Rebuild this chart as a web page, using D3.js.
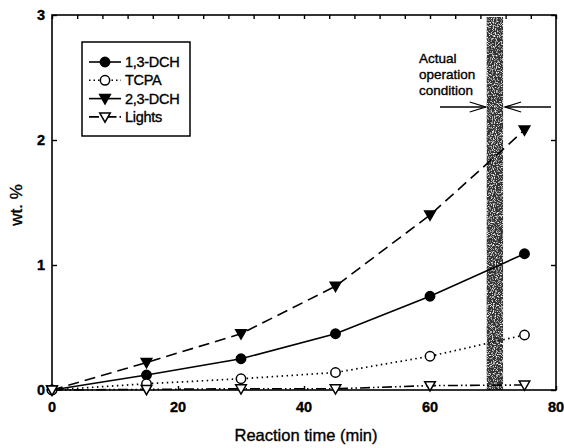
<!doctype html>
<html>
<head>
<meta charset="UTF-8">
<title>wt% vs reaction time</title>
<style>
	body { margin: 0; background: #fff; }
	#container { font-size: 0; }
	text { font-family: "Liberation Sans", Arial, sans-serif; fill: #000; stroke: #000; stroke-width: 0.35; }
</style>
</head>
<body>
<div id="container"></div>
<script src="https://cdn.jsdelivr.net/npm/d3@7"></script>
<script>
	var w = 564;
	var h = 448;

	// data
	var times = [0, 15, 30, 45, 60, 75];
	var dch13 = [0, 0.12, 0.25, 0.45, 0.75, 1.09];
	var tcpa = [0, 0.05, 0.09, 0.14, 0.27, 0.44];
	var dch23 = [0, 0.22, 0.45, 0.83, 1.40, 2.08];
	var lights = [0, 0.005, 0.01, 0.01, 0.035, 0.04];
	var xTicks = [0, 20, 40, 60, 80];
	var yTicks = [0, 1, 2, 3];
	var band = [69, 71.6];

	var series = [
		{name: "1,3-DCH", values: dch13, dash: null, legDash: null, marker: "circle", filled: true},
		{name: "TCPA", values: tcpa, dash: "1.5,3.5", legDash: "1.5,3", marker: "circle", filled: false},
		{name: "2,3-DCH", values: dch23, dash: "11,6", legDash: null, marker: "tri", filled: true},
		{name: "Lights", values: lights, dash: "10,3,1.5,3,1.5,3", legDash: "10,3,1.5,3", marker: "tri", filled: false}
	];

	var xScale = d3.scaleLinear().domain([0, 80]).range([52, 556]);
	var yScale = d3.scaleLinear().domain([0, 3]).range([390, 15]);

	var svg = d3.select("#container").append("svg")
			.attr("width", w)
			.attr("height", h);

	// speckle texture for the band
	var defs = svg.append("defs");
	var f = defs.append("filter").attr("id", "speck").attr("x", 0).attr("y", 0).attr("width", 1).attr("height", 1);
	f.append("feTurbulence").attr("type", "fractalNoise").attr("baseFrequency", 0.9).attr("numOctaves", 2).attr("seed", 3).attr("result", "n");
	f.append("feColorMatrix").attr("in", "n").attr("type", "matrix")
			.attr("values", "0 0 0 0 1  0 0 0 0 1  0 0 0 0 1  3.4 0 0 0 -1.7").attr("result", "s");
	f.append("feComposite").attr("in", "s").attr("in2", "SourceGraphic").attr("operator", "atop");

	svg.append("rect")
			.attr("x", xScale(band[0]))
			.attr("y", yScale(3) + 2)
			.attr("width", xScale(band[1]) - xScale(band[0]))
			.attr("height", yScale(0) - yScale(3) - 2)
			.attr("fill", "#333")
			.attr("filter", "url(#speck)");

	// frame
	svg.append("rect")
			.attr("x", xScale(0)).attr("y", yScale(3))
			.attr("width", xScale(80) - xScale(0))
			.attr("height", yScale(0) - yScale(3))
			.attr("fill", "none").attr("stroke", "#000").attr("stroke-width", 1.6);

	// ticks (inward)
	svg.append("g").attr("transform", "translate(0," + yScale(3) + ")")
			.call(d3.axisBottom(xScale).tickValues(d3.range(0, 81, 4)).tickSize(4).tickFormat(""))
			.call(function (g) { g.select(".domain").remove(); });
	svg.append("g").attr("transform", "translate(0," + yScale(0) + ")")
			.call(d3.axisTop(xScale).tickValues(xTicks).tickSize(4).tickFormat(""))
			.call(function (g) { g.select(".domain").remove(); });
	svg.append("g").attr("transform", "translate(" + xScale(0) + ",0)")
			.call(d3.axisRight(yScale).tickValues(yTicks).tickSize(5).tickFormat(""))
			.call(function (g) { g.select(".domain").remove(); });
	svg.append("g").attr("transform", "translate(" + xScale(80) + ",0)")
			.call(d3.axisLeft(yScale).tickValues(yTicks).tickSize(5).tickFormat(""))
			.call(function (g) { g.select(".domain").remove(); });
	svg.selectAll(".tick line").attr("stroke-width", 1.4);

	// tick labels
	svg.selectAll("text.xl").data(xTicks).enter().append("text")
			.attr("class", "xl")
			.attr("x", function (d) { return xScale(d); })
			.attr("y", 412)
			.attr("text-anchor", "middle")
			.attr("font-size", 14.5)
			.attr("font-weight", "bold")
			.text(function (d) { return d; });
	svg.selectAll("text.yl").data(yTicks).enter().append("text")
			.attr("class", "yl")
			.attr("x", 45)
			.attr("y", function (d) { return yScale(d) + 5; })
			.attr("text-anchor", "end")
			.attr("font-size", 14.5)
			.attr("font-weight", "bold")
			.text(function (d) { return d; });

	svg.append("text")
			.attr("x", 306).attr("y", 441)
			.attr("text-anchor", "middle")
			.attr("font-size", 16.5)
			.text("Reaction time (min)");
	svg.append("text")
			.attr("transform", "translate(22,205) rotate(-90)")
			.attr("text-anchor", "middle")
			.attr("font-size", 17)
			.text("wt. %");

	// lines and markers
	var line = d3.line()
			.x(function (d, i) { return xScale(times[i]); })
			.y(function (d) { return yScale(d); });

	function marker(g, s, cx, cy) {
		var fill = s.filled ? "#000" : "#fff";
		if (s.marker === "circle") {
			g.append("circle").attr("cx", cx).attr("cy", cy).attr("r", 4.7)
					.attr("fill", fill).attr("stroke", "#000").attr("stroke-width", 1.5);
		} else {
			g.append("path")
					.attr("d", "M" + (cx - 5.3) + "," + (cy - 4) + "L" + (cx + 5.3) + "," + (cy - 4) + "L" + cx + "," + (cy + 5.3) + "Z")
					.attr("fill", fill).attr("stroke", "#000").attr("stroke-width", 1.5);
		}
	}

	series.forEach(function (s) {
		svg.append("path")
				.attr("d", line(s.values))
				.attr("fill", "none")
				.attr("stroke", "#000")
				.attr("stroke-width", s.name === "TCPA" ? 1.7 : 1.6)
				.attr("stroke-dasharray", s.dash);
	});
	series.forEach(function (s) {
		var g = svg.append("g");
		s.values.forEach(function (v, i) {
			marker(g, s, xScale(times[i]), yScale(v));
		});
	});

	// legend
	var lg = svg.append("g");
	lg.append("rect").attr("x", 82).attr("y", 42).attr("width", 108).attr("height", 94)
			.attr("fill", "#fff").attr("stroke", "#000").attr("stroke-width", 1.5);
	series.forEach(function (s, i) {
		var yy = 62 + i * 18.3;
		lg.append("line").attr("x1", 89).attr("x2", 121).attr("y1", yy).attr("y2", yy)
				.attr("stroke", "#000").attr("stroke-width", 1.6)
				.attr("stroke-dasharray", s.legDash);
		marker(lg, s, 105, yy);
		lg.append("text").attr("x", 125).attr("y", yy + 5)
				.attr("font-size", 14.5)
				.attr("letter-spacing", -0.3)
				.text(s.name);
	});

	// annotation
	var ann = svg.append("g").attr("font-size", 13.5);
	["Actual", "operation", "condition"].forEach(function (t, i) {
		ann.append("text").attr("x", 419).attr("y", 63 + i * 16).text(t);
	});
	var ay = 107;
	function arrow(x1, x2) {
		var dir = x2 > x1 ? -1 : 1;
		ann.append("line").attr("x1", x1).attr("x2", x2).attr("y1", ay).attr("y2", ay)
				.attr("stroke", "#000").attr("stroke-width", 1.3);
		ann.append("path")
				.attr("d", "M" + (x2 + dir * 16) + "," + (ay - 5) + "L" + x2 + "," + ay + "L" + (x2 + dir * 16) + "," + (ay + 5))
				.attr("fill", "none").attr("stroke", "#000").attr("stroke-width", 1.3);
	}
	arrow(440, xScale(band[0]) - 1);
	arrow(551, xScale(band[1]) + 2);
</script>
</body>
</html>
